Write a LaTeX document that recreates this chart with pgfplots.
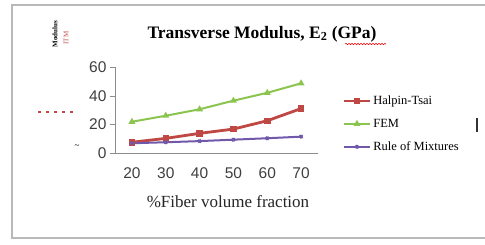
\documentclass[border=0pt]{standalone}
\usepackage{pgfplots}
\pgfplotsset{compat=1.18}
\usepackage{fontspec}
\setmainfont{Liberation Serif}
\newfontfamily\arialf{Liberation Sans}
\usetikzlibrary{decorations.pathmorphing}
\definecolor{cred}{RGB}{192,72,68}
\definecolor{cgreen}{RGB}{140,196,80}
\definecolor{cpurple}{RGB}{112,88,170}
\definecolor{cframe}{RGB}{185,185,185}
\begin{document}
\begin{tikzpicture}[x=1bp,y=1bp]
\useasboundingbox (0,0) rectangle (485,244);
\fill[white] (0,0) rectangle (485,244);
\draw[cframe,line width=1.5bp] (12,6) rectangle (495,239);
% title
\node[font=\fontsize{17.5bp}{20bp}\selectfont\bfseries] at (262,210) {Transverse Modulus, E\textsubscript{2} (GPa)};
\draw[red,line width=0.5bp,decorate,decoration={snake,amplitude=0.7bp,segment length=3bp}] (345,200) -- (386,200);
% stray fragments
\node[rotate=90,font=\fontsize{7bp}{8bp}\selectfont\bfseries] at (55,210) {Modulus};
\node[rotate=90,font=\fontsize{7bp}{8bp}\selectfont,text=cred] at (66,206) {ITM};
\draw[cred,line width=1.5bp,dash pattern=on 3bp off 5bp] (38,132) -- (76,132);
\node[font=\fontsize{9bp}{10bp}\selectfont] at (77,97) {\textasciitilde};
\draw[black!80,line width=1.5bp] (477,112) -- (477,126);
\begin{axis}[
  at={(115bp,91bp)}, anchor=south west,
  scale only axis, width=203bp, height=86bp,
  xmin=-0.5, xmax=5.5, ymin=0, ymax=60,
  axis x line*=bottom, axis y line*=left,
  axis line style={black!45},
  xtick={0,...,5}, xticklabels={20,30,40,50,60,70},
  major x tick style={draw=none},
  extra x ticks={0.5,1.5,2.5,3.5,4.5,5.5},
  extra x tick labels={},
  extra x tick style={major tick length=5bp, tick align=outside, tick style={black!45}},
  ytick={0,20,40,60},
  tick align=outside, major tick length=5bp,
  y tick style={black!45},
  tick label style={font=\arialf\fontsize{15.5bp}{17bp}\selectfont, text=black!75},
  /pgf/number format/assume math mode=true,
  xticklabel style={yshift=-6bp},
  legend style={at={(1.12,0.69)}, anchor=north west, draw=none, fill=none,
    font=\fontsize{12.5bp}{14bp}\selectfont, row sep=9bp,
    legend cell align=left, inner sep=0pt},
  legend image post style={sharp plot},
  legend image code/.code={\draw[#1] (0bp,0bp) -- (26bp,0bp); \draw[#1,only marks] plot coordinates {(13bp,0bp)};},
  clip=false,
]
\addplot[cred, line width=2.8bp, mark=square*, mark size=2.8bp, mark options={solid,line width=0.8bp}]
  coordinates {(0,7.5) (1,10.2) (2,13.7) (3,16.7) (4,22.5) (5,31)};
\addlegendentry{Halpin-Tsai}
\addplot[cgreen, line width=2bp, mark=triangle*, mark size=2bp, mark options={solid}]
  coordinates {(0,21.8) (1,26) (2,30.5) (3,36.5) (4,42) (5,48.6)};
\addlegendentry{FEM}
\addplot[cpurple, line width=2bp, mark=x, mark size=2bp, mark options={solid}]
  coordinates {(0,6.8) (1,7.5) (2,8.3) (3,9.3) (4,10.3) (5,11.4)};
\addlegendentry{Rule of Mixtures}
\end{axis}
\node[font=\fontsize{17bp}{19bp}\selectfont, text=black!85] at (228,42) {\%Fiber volume fraction};
\end{tikzpicture}
\end{document}
